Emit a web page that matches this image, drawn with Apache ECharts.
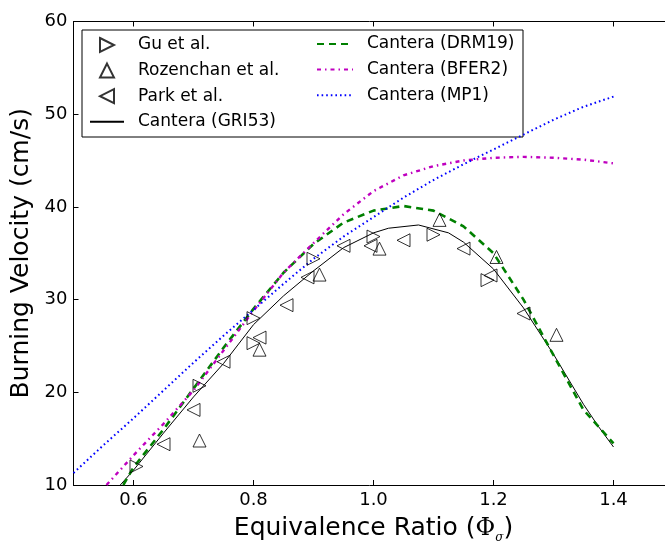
<!DOCTYPE html>
<html>
<head>
<meta charset="utf-8">
<script src="https://cdn.jsdelivr.net/npm/echarts@6/dist/echarts.min.js"></script>
<style>
  html, body { margin: 0; padding: 0; background: #fff; }
  #chart { width: 665px; height: 543px; }
</style>
</head>
<body>
<div id="chart"></div>
<script>
// Axis ticks
const xTicks = [0.6, 0.8, 1.0, 1.2, 1.4];
const yTicks = [10, 20, 30, 40, 50, 60];

// Measurements: Gu et al.
const guPhi = [0.605, 0.71, 0.80, 0.80, 0.90, 1.00, 1.10, 1.19];
const guSu  = [12.0, 20.7, 28.0, 25.3, 34.4, 36.8, 37.0, 32.1];

// Measurements: Rozenchan et al.
const rozPhi = [0.71, 0.81, 0.91, 1.01, 1.11, 1.205, 1.305];
const rozSu  = [14.8, 24.6, 32.7, 35.5, 38.6, 34.6, 26.2];

// Measurements: Park et al.
const parkPhi = [0.65, 0.70, 0.75, 0.81, 0.855, 0.89, 0.95, 0.995, 1.05, 1.15, 1.195, 1.25];
const parkSu  = [14.4, 18.1, 23.3, 25.9, 29.4, 32.4, 35.8, 35.8, 36.4, 35.5, 32.6, 28.5];

// Cantera (GRI53)
const griPhi = [0.578, 0.60, 0.65, 0.70, 0.75, 0.80, 0.85, 0.90, 0.95, 1.00, 1.025, 1.075, 1.125, 1.15, 1.20, 1.25, 1.30, 1.35, 1.375, 1.40];
const griSu  = [10.0, 11.6, 15.6, 19.5, 23.1, 27.3, 30.4, 33.1, 35.6, 37.2, 37.7, 38.05, 37.2, 36.2, 33.3, 29.1, 24.1, 18.7, 16.3, 14.1];

// Cantera (DRM19)
const drmPhi = [0.583, 0.60, 0.65, 0.70, 0.75, 0.80, 0.85, 0.90, 0.95, 1.00, 1.05, 1.10, 1.15, 1.20, 1.25, 1.30, 1.35, 1.40];
const drmSu  = [10.0, 11.9, 16.0, 20.4, 24.8, 29.0, 32.9, 36.0, 38.3, 39.6, 40.1, 39.6, 37.9, 35.0, 30.0, 24.0, 18.1, 14.5];

// Cantera (BFER2)
const bferPhi = [0.555, 0.60, 0.65, 0.70, 0.75, 0.80, 0.85, 0.90, 0.95, 1.00, 1.05, 1.10, 1.15, 1.20, 1.25, 1.30, 1.35, 1.40];
const bferSu  = [10.0, 13.2, 16.6, 20.2, 24.5, 28.8, 32.9, 36.1, 39.2, 41.7, 43.4, 44.4, 45.0, 45.3, 45.4, 45.3, 45.1, 44.7];

// Cantera (MP1)
const mpPhi = [0.50, 0.55, 0.60, 0.65, 0.70, 0.75, 0.80, 0.85, 0.90, 0.95, 1.00, 1.05, 1.10, 1.15, 1.20, 1.25, 1.30, 1.35, 1.40];
const mpSu  = [11.3, 14.3, 17.2, 20.2, 23.2, 26.1, 28.9, 31.7, 34.4, 36.8, 38.9, 41.0, 42.9, 44.6, 46.2, 47.8, 49.4, 50.8, 51.9];

const pairs = (xs, ys) => xs.map((x, i) => [x, ys[i]]);

const FONT = 'DejaVu Sans';
const triRight = 'path://M0,0L10,5L0,10Z';
const triLeft = 'path://M10,0L0,5L10,10Z';
const triUp = 'path://M5,0L10,10L0,10Z';
const markerStyle = { color: 'rgba(0,0,0,0)', borderColor: '#000', borderWidth: 1 };
const hiddenSymbol = { color: 'rgba(0,0,0,0)', borderColor: 'rgba(0,0,0,0)', borderWidth: 0 };

function scatter(name, xs, ys, symbol) {
  return {
    name, type: 'scatter', data: pairs(xs, ys),
    symbol, symbolSize: 13, itemStyle: markerStyle, z: 5
  };
}
function curve(name, xs, ys, color, width, type) {
  return {
    name, type: 'line', data: pairs(xs, ys), symbol: 'none', smooth: false,
    lineStyle: { color, width, type }, itemStyle: { color }, z: 3
  };
}

const chart = echarts.init(document.getElementById('chart'), null, { renderer: 'canvas' });

const commonX = {
  type: 'value', min: 0.5, max: 1.5,
  axisLine: { show: true, lineStyle: { color: '#000', width: 1 } },
  axisTick: { show: true, inside: true, length: 5, customValues: xTicks, lineStyle: { color: '#000' } },
  splitLine: { show: false }
};

const legendText = pad => ({ color: '#000', fontFamily: FONT, fontSize: 17, padding: [0, 0, 0, pad] });

chart.setOption({
  animation: false,
  backgroundColor: '#fff',
  grid: { left: 73.5, top: 21.5, width: 600, height: 463.5, containLabel: false, outerBoundsMode: 'none' },
  xAxis: [
    Object.assign({}, commonX, {
      position: 'bottom',
      axisLabel: {
        customValues: xTicks, formatter: v => v.toFixed(1), margin: 6,
        color: '#000', fontFamily: FONT, fontSize: 18
      },
      name: 'Equivalence Ratio ({phi|Φ}{sub|σ})',
      nameLocation: 'middle', nameGap: 26,
      nameTextStyle: {
        color: '#000', fontFamily: FONT, fontSize: 25, lineHeight: 30, verticalAlign: 'top',
        rich: {
          phi: { fontFamily: 'DejaVu Serif', fontSize: 24, color: '#000', lineHeight: 30 },
          sub: { fontFamily: 'DejaVu Serif', fontStyle: 'italic', fontSize: 12, color: '#000', lineHeight: 12, verticalAlign: 'bottom' }
        }
      }
    }),
    Object.assign({}, commonX, {
      position: 'top', axisLabel: { show: false }
    })
  ],
  yAxis: {
    type: 'value', min: 10, max: 60, interval: 10,
    axisLine: { show: true, lineStyle: { color: '#000', width: 1 } },
    axisTick: { show: true, inside: true, length: 5, lineStyle: { color: '#000' } },
    splitLine: { show: false },
    axisLabel: { margin: 6, color: '#000', fontFamily: FONT, fontSize: 18, formatter: v => String(v) },
    name: 'Burning Velocity (cm/s)', nameLocation: 'middle', nameGap: 36,
    nameTextStyle: { color: '#000', fontFamily: FONT, fontSize: 25 }
  },
  legend: [
    {
      orient: 'vertical', left: 89, top: 36.5, padding: 0,
      itemWidth: 34, itemHeight: 14, itemGap: 8.6,
      data: [
        { name: 'Gu et al.' },
        { name: 'Rozenchan et al.' },
        { name: 'Park et al.' },
        { name: 'Cantera (GRI53)', itemStyle: hiddenSymbol }
      ],
      textStyle: legendText(9),
      selectedMode: false
    },
    {
      orient: 'vertical', left: 316, top: 35.5, padding: 0,
      itemWidth: 36, itemHeight: 14, itemGap: 8.6,
      data: [
        { name: 'Cantera (DRM19)', itemStyle: hiddenSymbol },
        { name: 'Cantera (BFER2)', itemStyle: hiddenSymbol },
        { name: 'Cantera (MP1)', itemStyle: hiddenSymbol }
      ],
      textStyle: legendText(9),
      selectedMode: false
    }
  ],
  graphic: [{
    type: 'rect', z: 3, silent: true,
    shape: { x: 82, y: 30, width: 441, height: 107 },
    style: { fill: '#fff', stroke: '#000', lineWidth: 1 }
  }],
  series: [
    scatter('Gu et al.', guPhi, guSu, triRight),
    scatter('Rozenchan et al.', rozPhi, rozSu, triUp),
    scatter('Park et al.', parkPhi, parkSu, triLeft),
    curve('Cantera (GRI53)', griPhi, griSu, '#000', 1, 'solid'),
    curve('Cantera (DRM19)', drmPhi, drmSu, '#008000', 2.6, [7, 5]),
    curve('Cantera (BFER2)', bferPhi, bferSu, '#bf00bf', 2.4, [4, 4, 1.5, 4]),
    curve('Cantera (MP1)', mpPhi, mpSu, '#0000ff', 2, [1.6, 3])
  ]
});
</script>
</body>
</html>
